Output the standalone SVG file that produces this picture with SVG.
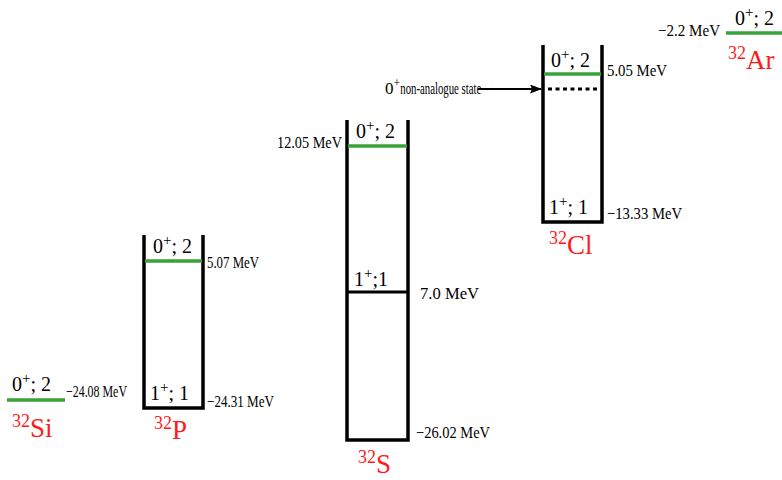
<svg xmlns="http://www.w3.org/2000/svg" width="782" height="480" viewBox="0 0 782 480" font-family="'Liberation Serif', 'DejaVu Serif', serif">
<defs>
<style>
.box{fill:none;stroke:#000;stroke-width:3.5}
.g{stroke:#3aa23a;stroke-width:3.5}
.k{stroke:#000;stroke-width:3}
.st{font-size:20px;fill:#000}
.e{font-size:17px;fill:#000}
.nuc{font-size:27px;fill:#ff1a1a}
</style>
<marker id="ah" markerWidth="12" markerHeight="9" refX="11" refY="4.5" orient="auto" markerUnits="userSpaceOnUse">
<path d="M0,0 L12,4.5 L0,9 L2,4.5 Z" fill="#000"/>
</marker>
</defs>
<rect width="782" height="480" fill="#fff"/>

<g id="si32">
<line class="g" x1="7" y1="400" x2="65" y2="400"/>
<text class="st" x="12" y="391">0<tspan dy="-8" font-size="15">+</tspan><tspan dy="8">; 2</tspan></text>
<text class="e" x="66" y="397" textLength="61" lengthAdjust="spacingAndGlyphs">−24.08 MeV</text>
<text class="nuc" x="12" y="437"><tspan font-size="18" dy="-10">32</tspan><tspan dy="10">Si</tspan></text>
</g>

<g id="p32">
<path class="box" d="M144,235 V408 H203 V235"/>
<line class="g" x1="145" y1="261" x2="202" y2="261"/>
<text class="st" x="153" y="253">0<tspan dy="-8" font-size="15">+</tspan><tspan dy="8">; 2</tspan></text>
<text class="e" x="207" y="268" textLength="52" lengthAdjust="spacingAndGlyphs">5.07 MeV</text>
<text class="st" x="150" y="400">1<tspan dy="-8" font-size="15">+</tspan><tspan dy="8">; 1</tspan></text>
<text class="e" x="207" y="407" textLength="67" lengthAdjust="spacingAndGlyphs">−24.31 MeV</text>
<text class="nuc" x="154" y="439"><tspan font-size="18" dy="-10">32</tspan><tspan dy="10">P</tspan></text>
</g>

<g id="s32">
<path class="box" d="M347,120 V440 H408 V120"/>
<line class="g" x1="348" y1="146" x2="407" y2="146"/>
<line class="k" x1="348" y1="292" x2="407" y2="292"/>
<text class="st" x="356" y="138">0<tspan dy="-8" font-size="15">+</tspan><tspan dy="8">; 2</tspan></text>
<text class="e" x="277" y="148" textLength="65" lengthAdjust="spacingAndGlyphs">12.05 MeV</text>
<text class="st" x="354" y="286">1<tspan dy="-8" font-size="15">+</tspan><tspan dy="8">;1</tspan></text>
<text class="e" x="420" y="299" textLength="59" lengthAdjust="spacingAndGlyphs">7.0 MeV</text>
<text class="e" x="416" y="438" textLength="74" lengthAdjust="spacingAndGlyphs">−26.02 MeV</text>
<text class="nuc" x="358" y="473"><tspan font-size="18" dy="-10">32</tspan><tspan dy="10">S</tspan></text>
</g>

<g id="cl32">
<path class="box" d="M543,45 V222 H602 V45"/>
<line class="g" x1="544" y1="74" x2="601" y2="74"/>
<line x1="548" y1="89" x2="600" y2="89" stroke="#000" stroke-width="3" stroke-dasharray="4,3.5"/>
<text class="st" x="551" y="67">0<tspan dy="-8" font-size="15">+</tspan><tspan dy="8">; 2</tspan></text>
<text class="e" x="607" y="76" textLength="60" lengthAdjust="spacingAndGlyphs">5.05 MeV</text>
<text class="st" x="549" y="214">1<tspan dy="-8" font-size="15">+</tspan><tspan dy="8">; 1</tspan></text>
<text class="e" x="607" y="219" textLength="75" lengthAdjust="spacingAndGlyphs">−13.33 MeV</text>
<text class="nuc" x="549" y="254"><tspan font-size="18" dy="-10">32</tspan><tspan dy="10">Cl</tspan></text>
</g>

<g id="nonanalogue">
<text class="e" x="385" y="94">0<tspan dy="-7" font-size="12">+</tspan><tspan dy="7" textLength="81" lengthAdjust="spacingAndGlyphs">non-analogue state</tspan></text>
</g>

<g id="ar32">
<line class="g" x1="726" y1="33" x2="782" y2="33"/>
<text class="st" x="735" y="25">0<tspan dy="-8" font-size="15">+</tspan><tspan dy="8">; 2</tspan></text>
<text class="e" x="658" y="36" textLength="62" lengthAdjust="spacingAndGlyphs">−2.2 MeV</text>
<text class="nuc" x="728" y="69"><tspan font-size="18" dy="-10">32</tspan><tspan dy="10">Ar</tspan></text>
</g>

<g id="connectors">
<line x1="478" y1="89" x2="541" y2="89" stroke="#000" stroke-width="1.8" marker-end="url(#ah)"/>
</g>
</svg>
